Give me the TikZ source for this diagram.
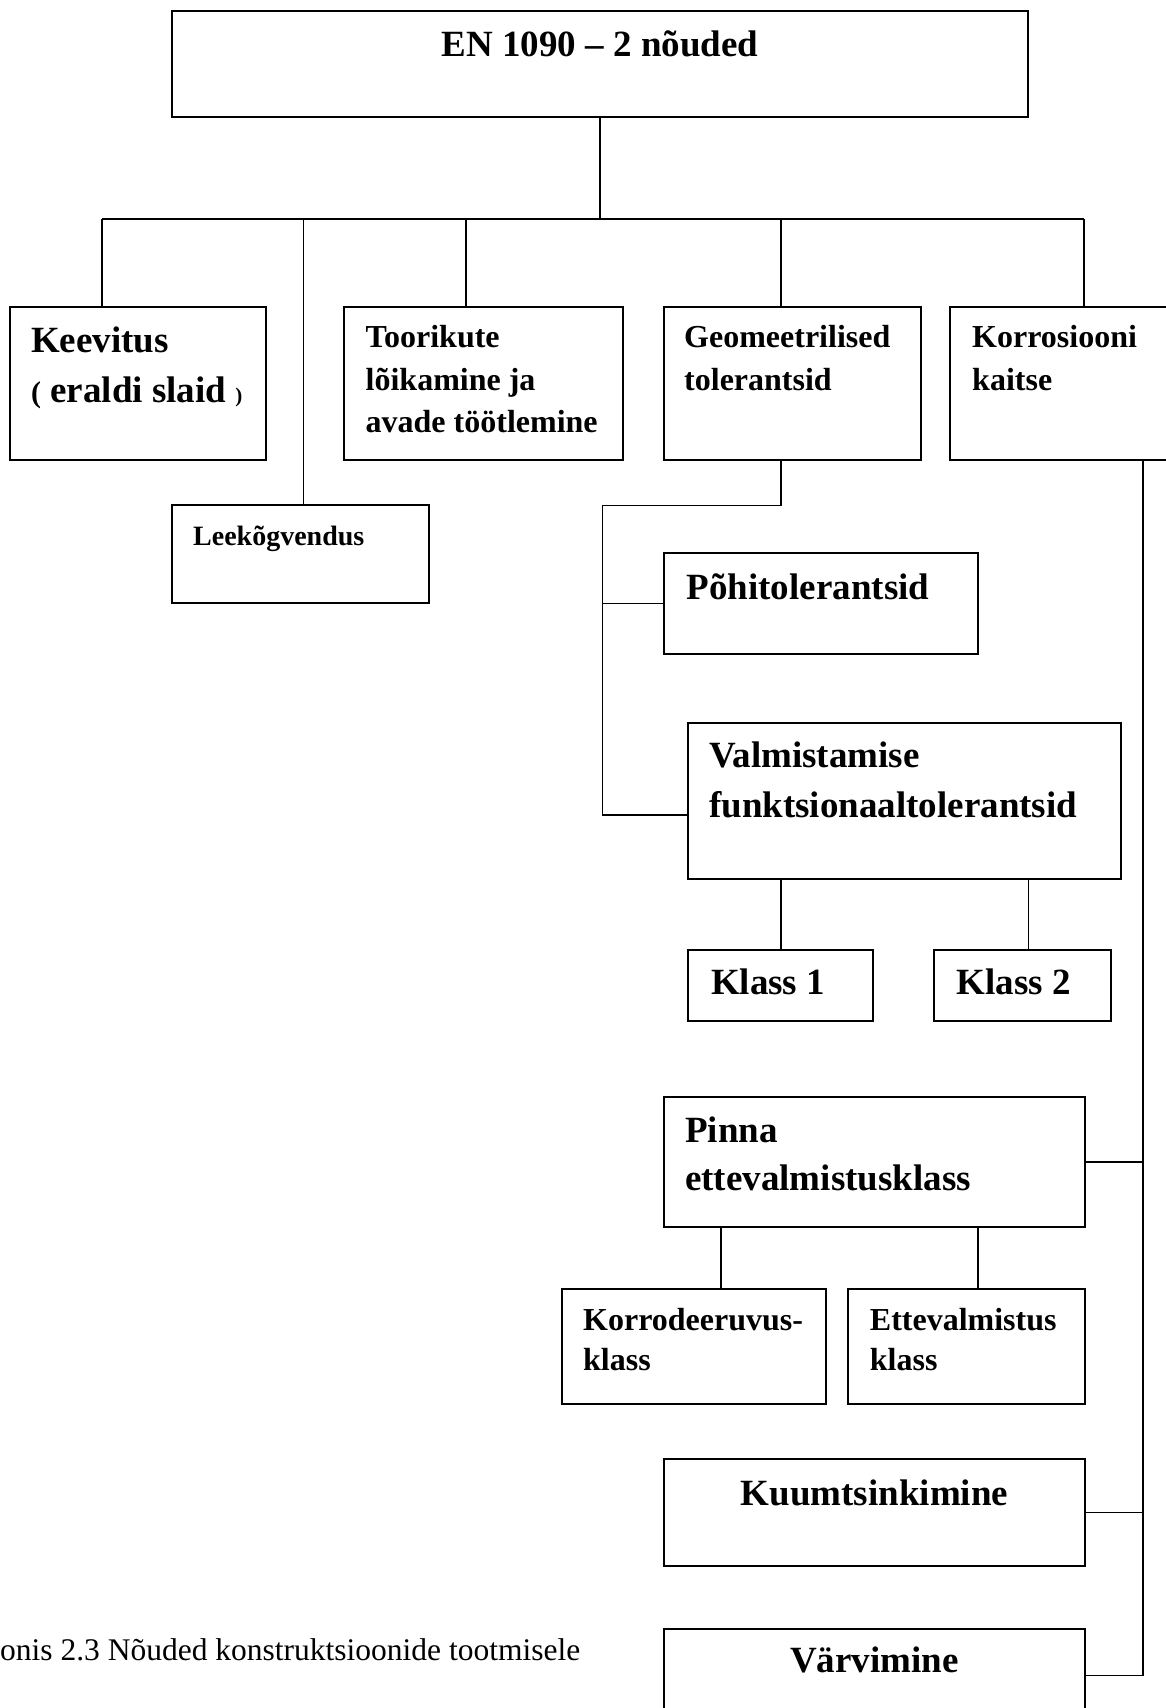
\documentclass[tikz,border=0pt]{standalone}
\usepackage{fontspec}
\setmainfont{Liberation Serif}
\begin{document}
\begin{tikzpicture}[x=1pt,y=-1pt,
  box/.style={draw, line width=2pt, inner sep=0pt, outer sep=0pt, anchor=north west},
  conn/.style={line width=1.8pt},
  big/.style={font=\bfseries\fontsize{37}{44}\selectfont, inner sep=0pt, anchor=base west},
  mid/.style={font=\bfseries\fontsize{32}{40}\selectfont, inner sep=0pt, anchor=base west},
  small/.style={font=\bfseries\fontsize{28}{34}\selectfont, inner sep=0pt, anchor=base west},
  captxt/.style={font=\fontsize{31.5}{38}\selectfont, inner sep=0pt, anchor=base east}]
\useasboundingbox (0,0) rectangle (1166,1708);
\clip (0,0) rectangle (1166,1708);

% boxes
\node[box, minimum width=856pt,   minimum height=106pt]   (top)    at (172,11) {};
\node[box, minimum width=256pt,   minimum height=153pt]   (keev)   at (10,307) {};
\node[box, minimum width=279pt,   minimum height=153pt]   (toor)   at (343.5,307) {};
\node[box, minimum width=256.5pt, minimum height=153pt]   (geo)    at (664,307) {};
\node[box, minimum width=240pt,   minimum height=153pt]   (korr)   at (950.3,307) {};
\node[box, minimum width=256.6pt, minimum height=97.4pt]  (leek)   at (172,505.3) {};
\node[box, minimum width=314.4pt, minimum height=101.8pt] (pohi)   at (664,552.6) {};
\node[box, minimum width=432.3pt, minimum height=155.6pt] (valm)   at (688.4,723) {};
\node[box, minimum width=184.6pt, minimum height=70.8pt]  (kl1)    at (688,950.2) {};
\node[box, minimum width=176.3pt, minimum height=70.8pt]  (kl2)    at (934.3,950.2) {};
\node[box, minimum width=420.8pt, minimum height=130.2pt] (pinna)  at (664.2,1096.8) {};
\node[box, minimum width=263.8pt, minimum height=115.7pt] (korrod) at (562,1288.7) {};
\node[box, minimum width=236.8pt, minimum height=115.7pt] (ette)   at (848.2,1288.7) {};
\node[box, minimum width=420.8pt, minimum height=106.8pt] (kuum)   at (664.2,1459) {};
\node[box, minimum width=420.8pt, minimum height=140pt]   (varv)   at (664.2,1628.7) {};

% labels
\node[big, anchor=base] (top-t) at (600,56.5) {EN 1090 – 2 nõuded};
\node[big] (keev-a) at (31,352) {Keevitus};
\node[big] (keev-b) at (31,402) {{\fontsize{30}{30}\selectfont(} eraldi slaid {\fontsize{21}{21}\selectfont)}};
\node[mid] (toor-a) at (365.5,347) {Toorikute};
\node[mid] (toor-b) at (365.5,390) {lõikamine ja};
\node[mid] (toor-c) at (365.5,432) {avade töötlemine};
\node[mid] (geo-a)  at (684,347) {Geomeetrilised};
\node[mid] (geo-b)  at (684,390) {tolerantsid};
\node[mid] (korr-a) at (972,347) {Korrosiooni};
\node[mid] (korr-b) at (972,390) {kaitse};
\node[small] (leek-a) at (193,545) {Leekõgvendus};
\node[big] (pohi-a) at (686.5,599.3) {Põhitolerantsid};
\node[big] (valm-a) at (709,767.6) {Valmistamise};
\node[big] (valm-b) at (709,817.4) {funktsionaaltolerantsid};
\node[big] (kl1-a) at (710.8,994.2) {Klass 1};
\node[big] (kl2-a) at (956.7,994.2) {Klass 2};
\node[big] (pinna-a) at (685,1142) {Pinna};
\node[big] (pinna-b) at (685,1190) {ettevalmistusklass};
\node[mid] (korrod-a) at (583,1330.3) {Korrodeeruvus-};
\node[mid] (korrod-b) at (583,1370.3) {klass};
\node[mid] (ette-a) at (869.7,1330.3) {Ettevalmistus};
\node[mid] (ette-b) at (869.7,1370.3) {klass};
\node[big, anchor=base] (kuum-a) at (874.5,1505.3) {Kuumtsinkimine};
\node[big, anchor=base] (varv-a) at (874.5,1672.7) {Värvimine};
\node[captxt] (caption) at (580.5,1660) {Joonis 2.3 Nõuded konstruktsioonide tootmisele};

% main bus
\coordinate (busL) at (102,219);
\coordinate (busR) at (1084,219);
\coordinate (dLeek) at (303.5,219);
\coordinate (dToor) at (466,219);
\coordinate (dGeo) at (780.7,219);
\draw[conn] (top.south) -- (top.south |- busL);
\draw[conn] (busL) -- (busR);
\draw[conn] (busL) -- (busL |- keev.north);
\draw[conn] (dLeek) -- (dLeek |- leek.north);
\draw[conn] (dToor) -- (dToor |- toor.north);
\draw[conn] (dGeo) -- (dGeo |- geo.north);
\draw[conn] (busR) -- (busR |- korr.north);

% geometric tolerances branch
\coordinate (g1) at (780.7,505.5);
\coordinate (g2) at (602.4,505.5);
\coordinate (g3) at (602.4,814.7);
\draw[conn] (g1 |- geo.south) -- (g1) -- (g2) -- (g3) -- (g3 -| valm.west);
\draw[conn] (g2 |- pohi.west) -- (pohi.west);

% classes under Valmistamise
\coordinate (xk1) at (780.7,900);
\coordinate (xk2) at (1028.4,900);
\draw[conn] (xk1 |- valm.south) -- (xk1 |- kl1.north);
\draw[conn] (xk2 |- valm.south) -- (xk2 |- kl2.north);

% corrosion protection branch
\coordinate (kend) at (1142.8,1675.5);
\draw[conn] (kend |- korr.south) -- (kend) -- (kend -| varv.east);
\draw[conn] (pinna.east) -- (pinna.east -| kend);
\draw[conn] (kuum.east) -- (kuum.east -| kend);

% classes under Pinna
\coordinate (xp1) at (720.8,1250);
\coordinate (xp2) at (978.3,1250);
\draw[conn] (xp1 |- pinna.south) -- (xp1 |- korrod.north);
\draw[conn] (xp2 |- pinna.south) -- (xp2 |- ette.north);
\end{tikzpicture}
\end{document}
